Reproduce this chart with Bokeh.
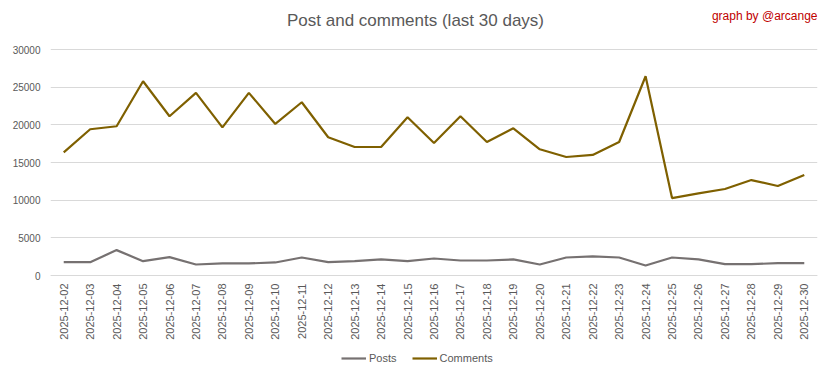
from bokeh.plotting import figure
from bokeh.models import (FactorRange, Range1d, FixedTicker, Label, Legend, LegendItem,
                          ColumnDataSource)
from bokeh.embed import file_html
from bokeh.resources import INLINE
from math import pi

dates = ["2025-12-%02d" % d for d in range(2, 31)]
posts = [1770, 1770, 3370, 1900, 2440, 1460, 1600, 1600, 1730, 2390,
         1770, 1900, 2130, 1900, 2260, 1990, 1990, 2130, 1460, 2390,
         2530, 2390, 1330, 2390, 2130, 1510, 1510, 1640, 1640]
comments = [16350, 19410, 19810, 25790, 21140, 24240, 19670, 24240, 20120, 23000,
            18350, 17060, 17060, 21000, 17590, 21140, 17720, 19540, 16750, 15730,
            16000, 17720, 26450, 10280, 10900, 11480, 12670, 11880, 13340]
y_ticks = [0, 5000, 10000, 15000, 20000, 25000, 30000]

src = ColumnDataSource(dict(date=dates, posts=posts, comments=comments))

# frame covers the whole canvas height; value 0 sits 275px from the top,
# 30000 sits 49px from the top
CANVAS_H = 378
PX = 30000 / 226.0                       # data units per pixel
Y_START = -(CANVAS_H - 275) * PX
Y_END = 30000 + 49 * PX

def y_at(px_from_top):
    return (275 - px_from_top) * PX

p = figure(width=832, height=CANVAS_H, frame_width=767, frame_height=CANVAS_H,
           x_range=FactorRange(*dates), y_range=Range1d(Y_START, Y_END),
           output_backend="svg", toolbar_location=None, title=None,
           min_border_left=50, min_border_right=15, min_border_top=0, min_border_bottom=0)
p.outline_line_color = None
p.background_fill_color = "white"
p.border_fill_color = "white"

TXT = "#595959"
FONT = "Liberation Sans"

p.yaxis.ticker = FixedTicker(ticks=y_ticks)
p.yaxis.axis_line_color = None
p.yaxis.major_tick_line_color = None
p.yaxis.minor_tick_line_color = None
p.yaxis.major_tick_out = 0
p.yaxis.major_label_text_color = TXT
p.yaxis.major_label_text_font = FONT
p.yaxis.major_label_text_font_size = "10px"
p.yaxis.major_label_standoff = 10

p.xaxis.fixed_location = 0
p.xaxis.axis_line_color = "#d9d9d9"
p.xaxis.major_tick_line_color = None
p.xaxis.minor_tick_line_color = None
p.xaxis.major_tick_out = 0
p.xaxis.major_label_orientation = pi / 2
p.xaxis.major_label_text_color = TXT
p.xaxis.major_label_text_font = FONT
p.xaxis.major_label_text_font_size = "11px"
p.xaxis.major_label_standoff = 8

p.xgrid.grid_line_color = None
p.ygrid.grid_line_color = "#d9d9d9"
p.ygrid.grid_line_width = 1

r_posts = p.line("date", "posts", source=src, line_color="#767171", line_width=2.2)
r_comm = p.line("date", "comments", source=src, line_color="#7f6000", line_width=2.2)

legend = Legend(items=[LegendItem(label="Posts", renderers=[r_posts]),
                       LegendItem(label="Comments", renderers=[r_comm])],
                orientation="horizontal", location=(291, 14),
                glyph_width=25, glyph_height=12, label_height=12, label_standoff=3,
                spacing=15, padding=0, margin=0, border_line_color=None,
                background_fill_alpha=0, label_text_font=FONT,
                label_text_font_size="11px", label_text_color=TXT)
p.add_layout(legend, "center")

n = len(dates)
title = Label(x=(415 - 50) / 767.0 * n, y=y_at(20),
              text="Post and comments (last 30 days)", text_font=FONT,
              text_font_size="17px", text_color=TXT, text_align="center",
              text_baseline="middle")
credit = Label(x=n, y=y_at(15),
               text="graph by @arcange", text_font=FONT, text_font_size="12px",
               text_color="#c00000", text_align="right", text_baseline="middle")
p.add_layout(title)
p.add_layout(credit)

open("out.html", "w").write(file_html(p, INLINE))
